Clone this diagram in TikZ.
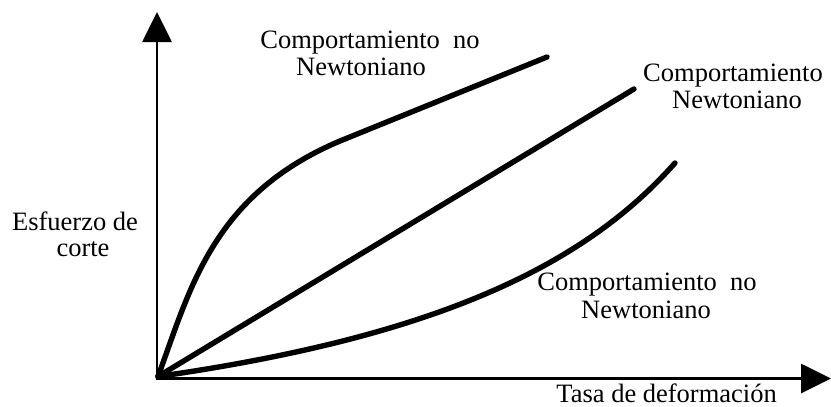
\documentclass[tikz,border=0pt]{standalone}
\usepackage{fontspec}
\setmainfont{Liberation Serif}
\usetikzlibrary{arrows.meta}
\tikzset{
  lbl/.style={inner sep=0pt, anchor=base, font=\fontsize{26.5}{28}\selectfont, text=black},
  axis/.style={line width=2.8pt, -{Triangle[length=30pt,width=29pt]}},
  curve/.style={line width=5.4pt, line cap=round, line join=round}
}
\begin{document}
\begin{tikzpicture}[x=1pt,y=-1pt]
\useasboundingbox (0,0) rectangle (831,407);
\coordinate (O) at (158,376.5);
\coordinate (Ytip) at (157,12);
\coordinate (Xtip) at (831,378.5);
\draw[axis] (157,379.5) -- (Ytip);
\draw[axis] (155.6,378.5) -- (Xtip);
% Newtonian line
\coordinate (Lend) at (634,89);
\draw[curve] (O) -- (Lend);
% upper (shear thinning) curve
\coordinate (Uk) at (340,141);
\coordinate (Uend) at (547,57);
\draw[curve] (O) .. controls (190,290) and (212,195) .. (Uk) -- (Uend);
% lower (shear thickening) curve
\coordinate (Dend) at (675,163);
\draw[curve] (O) .. controls (434,337) and (583,267) .. (Dend);
% labels
\node[lbl] (a1) at (370,48) {Comportamiento\ \ no};
\node[lbl] (a2) at (361,75) {Newtoniano};
\node[lbl] (b1) at (733,81) {Comportamiento};
\node[lbl] (b2) at (737,108) {Newtoniano};
\node[lbl] (c1) at (647,290) {Comportamiento\ \ no};
\node[lbl] (c2) at (646,318) {Newtoniano};
\node[lbl] (d1) at (75,230) {Esfuerzo de};
\node[lbl] (d2) at (83,256) {corte};
\node[lbl, anchor=base east] (e1) at (777,402) {Tasa de deformación};
\end{tikzpicture}
\end{document}
